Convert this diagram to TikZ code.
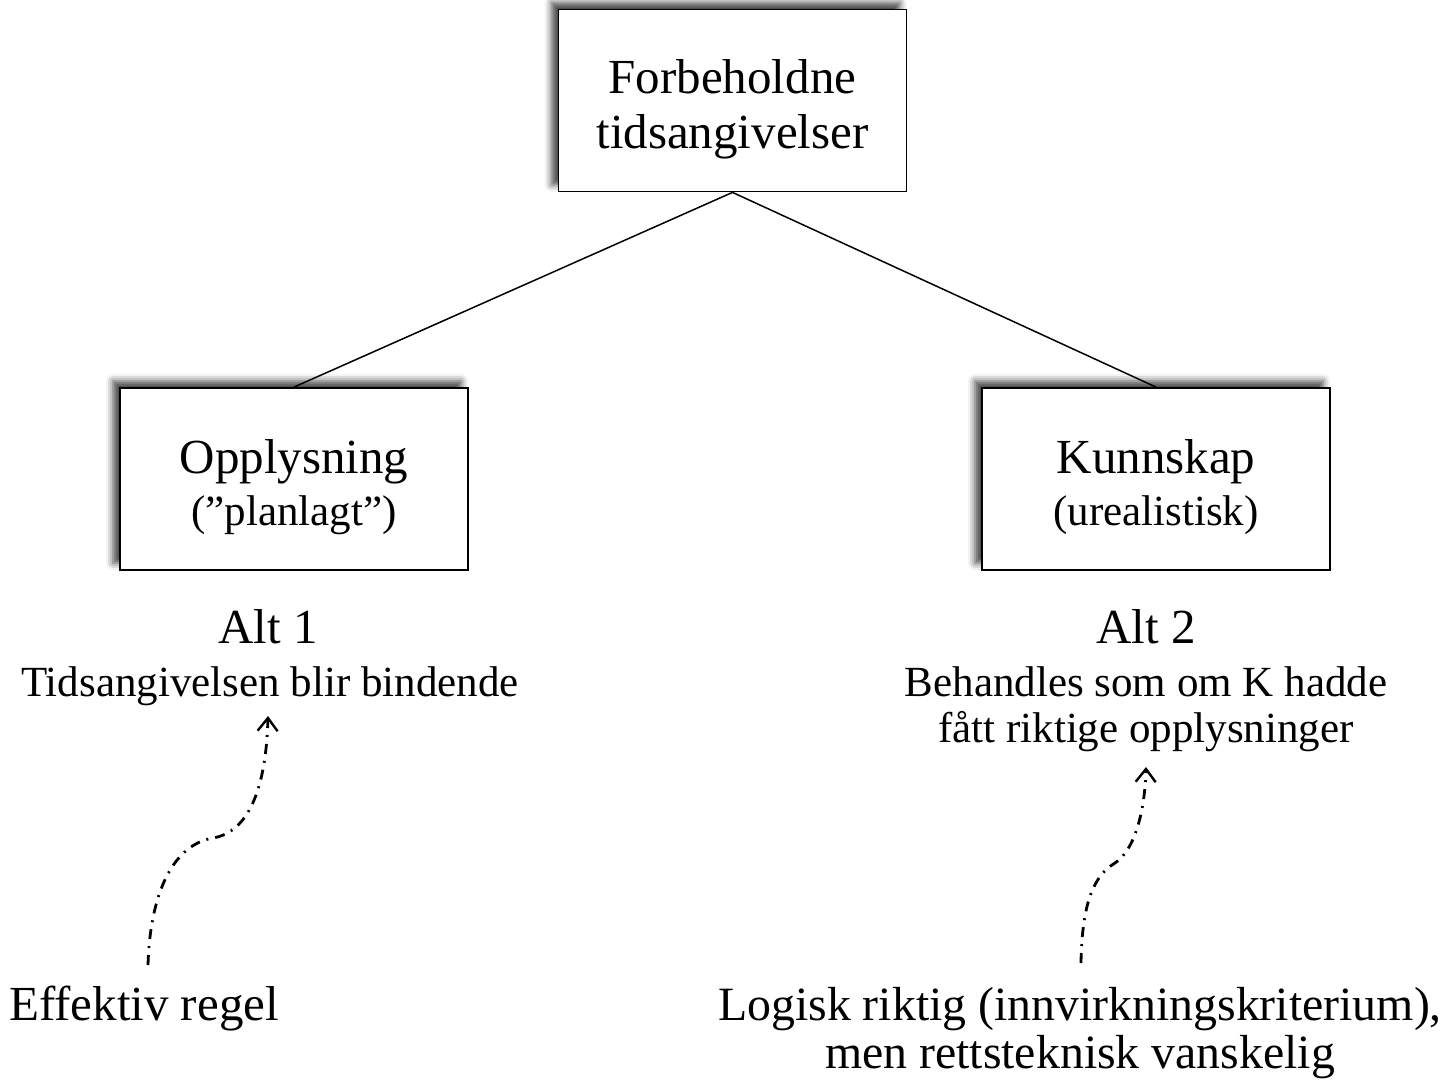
\documentclass[tikz,border=0pt]{standalone}
\usepackage{fontspec}
\setmainfont{Liberation Serif}
\usetikzlibrary{shadows.blur,arrows.meta}

\tikzset{
  card/.style={draw=black, line width=0.9pt, fill=white, rectangle,
    minimum width=174pt, minimum height=91pt, inner sep=0pt,
    blur shadow={shadow xshift=-3.5pt, shadow yshift=3.5pt, shadow blur radius=3.5pt, shadow opacity=75}},
  big/.style={font=\fontsize{24.5}{28}\selectfont, inner sep=0pt, anchor=base},
  wide/.style={font=\fontsize{23.9}{28}\selectfont, inner sep=0pt, anchor=base},
  small/.style={font=\fontsize{21.5}{25}\selectfont, inner sep=0pt, anchor=base},
  link/.style={line width=0.75pt},
  hint/.style={line width=1.4pt, dash pattern=on 5pt off 3.5pt on 1pt off 3.5pt,
    -{Straight Barb[length=6.5pt,width=10pt,line width=1.2pt]}}
}

\begin{document}
\begin{tikzpicture}[x=0.5pt,y=-0.5pt]
  \useasboundingbox (0,0) rectangle (1451,1087);

  % the three boxes
  \node[card] (root)  at (732.5,100.5) {};
  \node[card] (info)  at (294,479) {};
  \node[card] (know)  at (1156,479) {};

  % box texts
  \node[big]   (rootA) at (732.5,93)  {Forbeholdne};
  \node[big]   (rootB) at (732.5,148) {tidsangivelser};
  \node[big]   (infoA) at (294,473)   {Opplysning};
  \node[small] (infoB) at (294,525)   {(”planlagt”)};
  \node[big]   (knowA) at (1156,473)  {Kunnskap};
  \node[small] (knowB) at (1156,525)  {(urealistisk)};

  % tree connectors
  \draw[link] (root.south) -- (info.north);
  \draw[link] (root.south) -- (know.north);

  % alternatives
  \node[big]   (alt1)  at (268,643)  {Alt 1};
  \node[small] (alt1t) at (270,696)  {Tidsangivelsen blir bindende};
  \node[big]   (alt2)  at (1146,643) {Alt 2};
  \node[small] (alt2a) at (1146,696) {Behandles som om K hadde};
  \node[small] (alt2b) at (1146,742) {fått riktige opplysninger};

  % assessments
  \node[big]  (eff)  at (144,1020)  {Effektiv regel};
  \node[wide] (logA) at (1080,1020) {Logisk riktig (innvirkningskriterium),};
  \node[wide] (logB) at (1080,1068) {men rettsteknisk vanskelig};

  % dash-dotted pointers
  \coordinate (effTop) at (148,965);
  \coordinate (alt1Foot) at (268,716);
  \coordinate (logTop) at (1081,963);
  \coordinate (alt2Foot) at (1146,767);

  \draw[hint] (effTop) .. controls (150,895) and (172,845) .. (213,838)
                       .. controls (248,832) and (266,790) .. (alt1Foot);
  \draw[hint] (logTop) .. controls (1082,900) and (1095,875) .. (1115,863)
                       .. controls (1135,850) and (1145,810) .. (alt2Foot);
\end{tikzpicture}
\end{document}
